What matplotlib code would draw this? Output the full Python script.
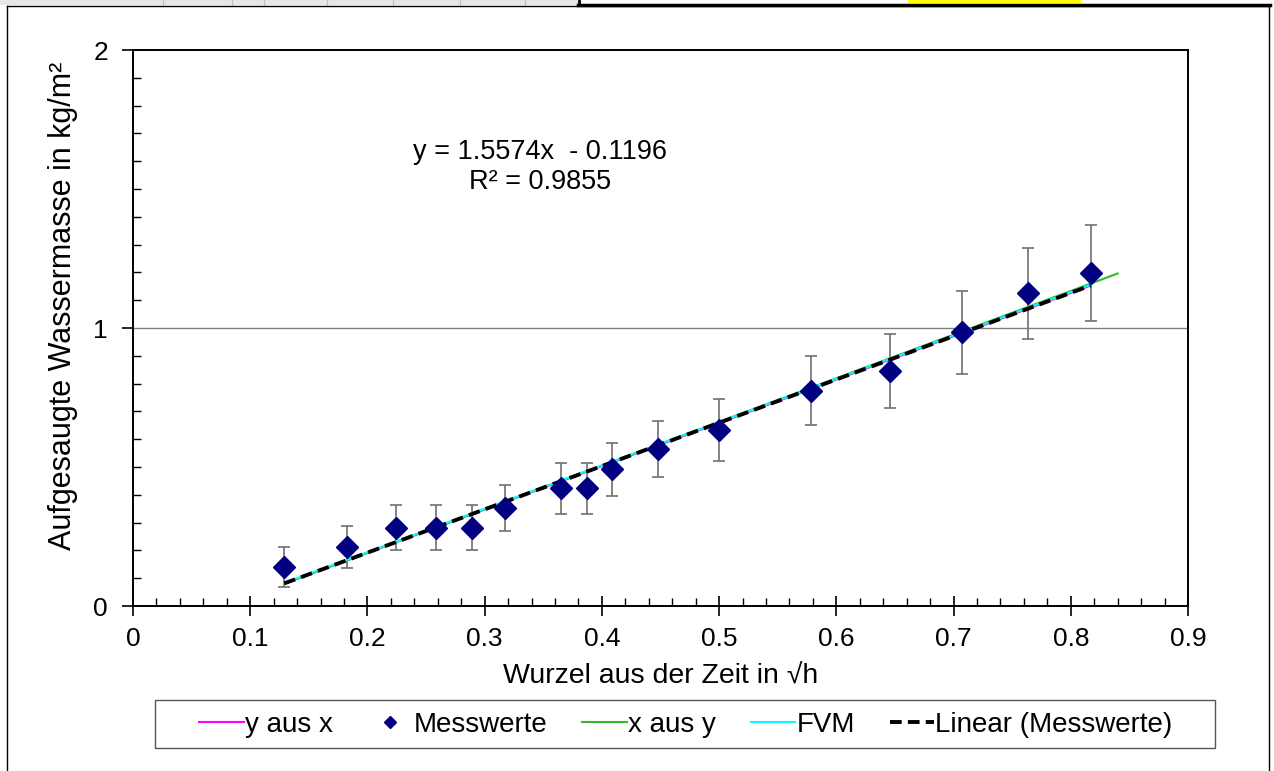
import matplotlib
matplotlib.use("Agg")
import matplotlib.pyplot as plt
from matplotlib.lines import Line2D
from matplotlib.patches import Rectangle
from matplotlib.ticker import MultipleLocator

plt.rcParams['font.family'] = ['Liberation Sans', 'DejaVu Sans']

# Measured values
x_mess = [0.129, 0.1828, 0.2241, 0.2582, 0.2892, 0.3174, 0.3651, 0.3876,
          0.4089, 0.4476, 0.5002, 0.5781, 0.6458, 0.7075, 0.7638, 0.817]
y_mess = [0.141, 0.213, 0.282, 0.282, 0.282, 0.353, 0.423, 0.423,
          0.492, 0.565, 0.633, 0.775, 0.845, 0.984, 1.125, 1.197]
y_err = [0.072, 0.075, 0.080, 0.080, 0.080, 0.084, 0.091, 0.091,
         0.096, 0.102, 0.110, 0.125, 0.132, 0.149, 0.164, 0.173]

# Model lines (endpoints)
x_yausx = [0.129, 0.8165]
y_yausx = [0.081, 1.152]
x_xausy = [0.129, 0.84]
y_xausy = [0.080, 1.196]
x_fvm = [0.129, 0.8165]
y_fvm = [0.083, 1.155]

# Trend line parameters (Excel linear trendline)
slope = 1.5574
intercept = -0.1196
r2 = 0.9855

x_ticks = [0, 0.1, 0.2, 0.3, 0.4, 0.5, 0.6, 0.7, 0.8, 0.9]
x_ticklabels = ["0", "0.1", "0.2", "0.3", "0.4", "0.5", "0.6", "0.7", "0.8", "0.9"]
y_ticks = [0, 1, 2]
y_ticklabels = ["0", "1", "2"]

legend_labels = ["y aus x", "Messwerte", "x aus y", "FVM", "Linear (Messwerte)"]

W, H = 1274, 771
fig = plt.figure(figsize=(W / 100, H / 100), dpi=100)

# Spreadsheet remnants at the top
fig.patches.append(Rectangle((0, 1 - 5 / H), 578 / W, 5 / H, transform=fig.transFigure,
                             facecolor="#e6e6e6", edgecolor="none", zorder=0))
for cx in [163, 232, 264, 327, 393, 460, 525]:
    fig.lines.append(Line2D([cx / W, cx / W], [1 - 5 / H, 1], transform=fig.transFigure,
                            color="#c0c0c0", lw=0.8))
fig.patches.append(Rectangle((908 / W, 1 - 3 / H), 173 / W, 3 / H, transform=fig.transFigure,
                             facecolor="#ffff00", edgecolor="none"))
fig.lines.append(Line2D([578 / W, 1270 / W], [1 - 4.5 / H, 1 - 4.5 / H], transform=fig.transFigure,
                        color="black", lw=2.5))
fig.lines.append(Line2D([579 / W, 579 / W], [1 - 5 / H, 1], transform=fig.transFigure,
                        color="black", lw=2))
# Chart outer border
fig.lines.append(Line2D([7 / W, 7 / W], [0, 1 - 6 / H], transform=fig.transFigure, color="black", lw=1))
fig.lines.append(Line2D([1269 / W, 1269 / W], [0, 1 - 6 / H], transform=fig.transFigure, color="black", lw=1))
fig.lines.append(Line2D([7 / W, 1269 / W], [1 - 6 / H, 1 - 6 / H], transform=fig.transFigure, color="black", lw=1))

ax = fig.add_axes([133 / W, (H - 606) / H, 1055 / W, 556 / H])
ax.set_xlim(0, 0.9)
ax.set_ylim(0, 2)

ax.axhline(1, color="#808080", lw=1.0, zorder=1)

ax.errorbar(x_mess, y_mess, yerr=y_err, fmt="none", ecolor="#707070", elinewidth=1.2,
            capsize=4, capthick=1.2, zorder=2)

l1, = ax.plot(x_yausx, y_yausx, color="#ff00ff", lw=1.5, zorder=3)
l3, = ax.plot(x_xausy, y_xausy, color="#33bb22", lw=1.5, zorder=3)
l4, = ax.plot(x_fvm, y_fvm, color="#00ffff", lw=1.5, zorder=3)
xt = [min(x_mess), max(x_mess)]
yt = [slope * v + intercept for v in xt]
l5, = ax.plot(xt, yt, color="black", lw=2.8, ls=(0, (3, 1.6)), zorder=4)
l2, = ax.plot(x_mess, y_mess, ls="none", marker="D", markersize=11, color="#000080",
              markeredgecolor="#000080", zorder=5)

ax.text(0.347, 1.58, f"y = {slope:.4f}x  - {abs(intercept):.4f}\nR² = {r2:.4f}",
        ha="center", va="center", fontsize=19.5, linespacing=1.2)

ax.set_xticks(x_ticks)
ax.set_xticklabels(x_ticklabels)
ax.set_yticks(y_ticks)
ax.set_yticklabels(y_ticklabels)
ax.xaxis.set_minor_locator(MultipleLocator(0.02))
ax.yaxis.set_minor_locator(MultipleLocator(0.1))
ax.tick_params(axis="x", which="major", direction="inout", length=14, width=1.2,
               labelsize=19, pad=8)
ax.tick_params(axis="x", which="minor", direction="in", length=6, width=1.0)
ax.tick_params(axis="y", which="major", direction="out", length=8, width=1.2,
               labelsize=19, pad=10)
ax.tick_params(axis="y", which="minor", direction="in", length=6, width=1.0)
for s in ax.spines.values():
    s.set_linewidth(1.4)
    s.set_color("black")

ax.set_xlabel("Wurzel aus der Zeit in √h", fontsize=20.5, labelpad=9)
ax.set_ylabel("Aufgesaugte Wassermasse in kg/m²", fontsize=22)
ax.yaxis.set_label_coords((78 - 133) / 1055, (606 - 306) / 556)

# Legend with a manually drawn box
fig.patches.append(Rectangle((155 / W, (H - 748) / H), 1060 / W, 48 / H, transform=fig.transFigure,
                             facecolor="white", edgecolor="#555555", lw=1.0, zorder=1))
leg = fig.legend([l1, l2, l3, l4, l5], legend_labels,
                 loc="center", bbox_to_anchor=(686 / W, (H - 725) / H), ncol=5,
                 fontsize=20, frameon=False,
                 handlelength=1.6, handletextpad=0.05, columnspacing=1.25,
                 borderpad=0.2, markerscale=0.6)
leg.set_zorder(2)

fig.savefig("out.png", dpi=100)
